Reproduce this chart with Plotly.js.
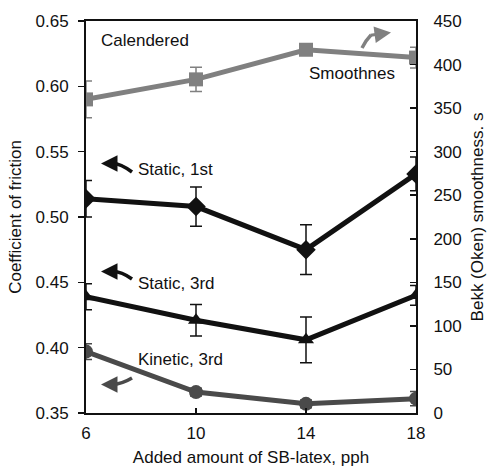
<!DOCTYPE html>
<html>
<head>
<meta charset="utf-8">
<script src="https://cdn.plot.ly/plotly-3.0.1.min.js"></script>
<style>html,body{margin:0;padding:0;background:#fff;}#chart{width:489px;height:468px;}</style>
</head>
<body>
<div id="chart"></div>
<script>
// ---- data ----
var latex = [6, 10, 14, 18];
var smoothness = [360, 383, 417, 408];
var smoothnessErr = [21, 14, 3, 12];
var static1st = [0.514, 0.508, 0.475, 0.533];
var static1stErr = [0.014, 0.015, 0.019, 0.013];
var static3rd = [0.439, 0.421, 0.406, 0.440];
var static3rdErr = [0.010, 0.012, 0.0175, 0.0075];
var kinetic3rd = [0.397, 0.366, 0.357, 0.361];
var kinetic3rdErr = [0.006, 0.003, 0.003, 0.0055];
var xTicks = [6, 10, 14, 18];

var FONT = '"Liberation Sans", Arial, Helvetica, sans-serif';
var FS = 17;
var W = 489, H = 468;
var L = 86, R = 416, T = 21, B = 413;
function px(x){ return (x - L) / (R - L); }
function py(y){ return (B - y) / (B - T); }

function errb(arr, col){ return {type:'data', array:arr, visible:true, color:col, thickness:1.5, width:6}; }

var traces = [
  {x: latex, y: static1st, yaxis:'y', mode:'lines+markers', name:'Static, 1st',
   line:{color:'#111', width:5}, marker:{symbol:'diamond', size:15, color:'#111'},
   error_y: errb(static1stErr, '#111')},
  {x: latex, y: static3rd, yaxis:'y', mode:'lines+markers', name:'Static, 3rd',
   line:{color:'#111', width:5}, marker:{symbol:'triangle-up', size:14, color:'#111'},
   error_y: errb(static3rdErr, '#111')},
  {x: latex, y: kinetic3rd, yaxis:'y', mode:'lines+markers', name:'Kinetic, 3rd',
   line:{color:'#4a4a4a', width:5}, marker:{symbol:'circle', size:14, color:'#4a4a4a'},
   error_y: errb(kinetic3rdErr, '#4a4a4a')},
  {x: latex, y: smoothness, yaxis:'y2', mode:'lines+markers', name:'Smoothnes',
   line:{color:'#808080', width:5}, marker:{symbol:'square', size:14, color:'#808080'},
   error_y: errb(smoothnessErr, '#808080')}
];

function curve(p0, c, p1, col){
  return {type:'path', xref:'paper', yref:'paper',
    path:'M '+px(p0[0])+' '+py(p0[1])+' Q '+px(c[0])+' '+py(c[1])+' '+px(p1[0])+' '+py(p1[1]),
    line:{color:col, width:3.5}};
}
function head(tip, from, col){
  return {xref:'paper', yref:'paper', x:px(tip[0]), y:py(tip[1]), text:'', showarrow:true,
    axref:'pixel', ayref:'pixel', ax:from[0]-tip[0], ay:from[1]-tip[1],
    arrowhead:2, arrowsize:1.1, arrowwidth:3, arrowcolor:col, standoff:0};
}
function label(txt, x, y, anchor){
  return {xref:'paper', yref:'paper', x:px(x), y:py(y), text:txt, showarrow:false,
    xanchor:anchor||'left', yanchor:'middle', font:{family:FONT, size:FS, color:'#111'}};
}

var shapes = [
  curve([132,172],[120,163],[112,163.5],'#111'),
  curve([132,279],[121,271],[112,271.5],'#111'),
  curve([132,378],[122,384],[112,384.5],'#4a4a4a'),
  curve([362,48],[366,40],[371,35],'#808080')
];

var annotations = [
  label('Calendered', 99, 41),
  label('Smoothnes', 307, 73),
  label('Static, 1st', 136, 170),
  label('Static, 3rd', 136, 283),
  label('Kinetic, 3rd', 136, 359),
  head([101,163.5],[115,163.5],'#111'),
  head([101,271.5],[115,271.5],'#111'),
  head([101,384.5],[115,384.5],'#4a4a4a'),
  head([391,32.5],[369,35.5],'#808080')
];

var tf = {family:FONT, size:FS, color:'#111'};
var layout = {
  width: W, height: H,
  margin:{l:L, r:W-R, t:T, b:H-B, pad:0},
  paper_bgcolor:'#fff', plot_bgcolor:'#fff',
  showlegend:false,
  font:tf,
  xaxis:{range:[6,18], tickvals:xTicks, ticktext:xTicks.map(String),
    showgrid:false, zeroline:false, showline:true, linecolor:'#111', linewidth:2, mirror:true,
    ticks:'inside', ticklen:5, tickwidth:1.5, tickcolor:'#111', ticklabelstandoff:4,
    tickfont:tf,
    title:{text:'Added amount of SB-latex, pph', font:tf, standoff:9}},
  yaxis:{range:[0.35,0.65], dtick:0.05, tick0:0.35, tickformat:'.2f',
    showgrid:false, zeroline:false, showline:true, linecolor:'#111', linewidth:2,
    ticks:'outside', ticklen:6, tickwidth:1.5, tickcolor:'#111', ticklabelstandoff:6,
    tickfont:tf,
    title:{text:'Coefficient of friction', font:tf, standoff:10}},
  yaxis2:{range:[0,450], dtick:50, tick0:0, overlaying:'y', side:'right',
    showgrid:false, zeroline:false, showline:true, linecolor:'#111', linewidth:2,
    ticks:'inside', ticklen:6, tickwidth:1.5, tickcolor:'#111', ticklabelstandoff:12,
    tickfont:tf,
    title:{text:'Bekk (Oken) smoothness. s', font:tf, standoff:10}},
  shapes: shapes,
  annotations: annotations
};

Plotly.newPlot('chart', traces, layout, {displayModeBar:false, staticPlot:true});
</script>
</body>
</html>
